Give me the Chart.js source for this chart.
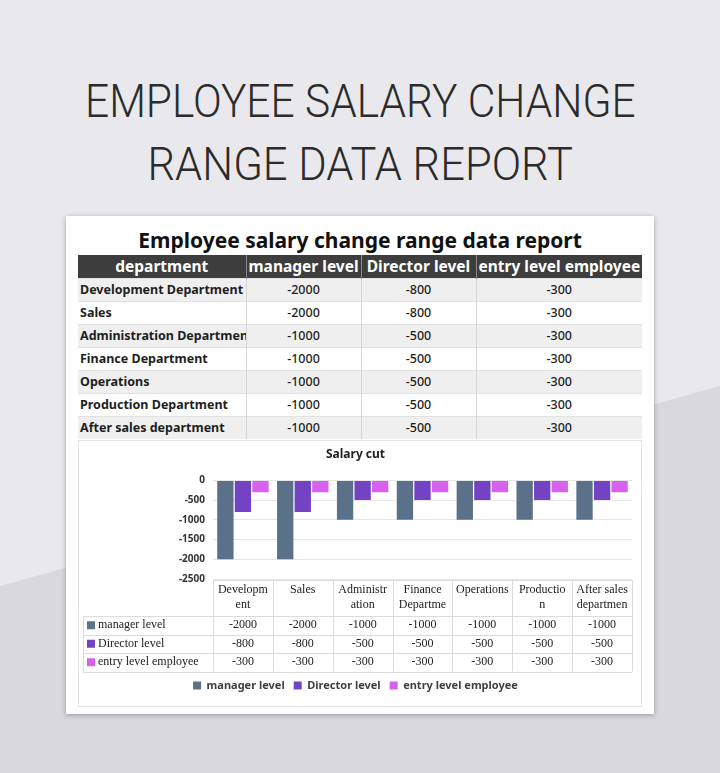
<!DOCTYPE html>
<html>
<head>
<meta charset="utf-8">
<script src="https://cdn.jsdelivr.net/npm/chart.js@4.4.1/dist/chart.umd.min.js"></script>
<style>
  html, body { margin: 0; padding: 0; }
  body {
    width: 720px; height: 773px; position: relative; overflow: hidden;
    background: #e9e9ed; font-family: "Noto Sans", sans-serif;
  }
  .shade {
    position: absolute; left: 0; top: 0; width: 720px; height: 773px;
    background: #d9d9dd;
    clip-path: polygon(0 586px, 720px 386px, 720px 773px, 0 773px);
  }
  .big {
    position: absolute; left: 0; width: 720px; text-align: center;
    font-family: "Roboto", sans-serif; font-weight: 300; color: #2b2b2b;
    font-size: 46px; line-height: 1; white-space: nowrap;
  }
  .big span { display: inline-block; transform-origin: center; }
  .card {
    position: absolute; left: 66px; top: 216px; width: 588px; height: 498px;
    background: #fff; box-shadow: 0 1px 5px rgba(0,0,0,0.3);
  }
  .ctitle {
    position: absolute; left: 0; top: 10px; width: 588px; text-align: center;
    font-weight: 700; font-size: 21px; color: #111; line-height: 28px;
  }
  table {
    position: absolute; left: 12px; top: 39px; border-collapse: collapse;
    table-layout: fixed; width: 564px;
  }
  th, td { padding: 0 2px; white-space: nowrap; overflow: hidden; }
  th {
    background: #3d3d3d; color: #fff; font-size: 15.5px; font-weight: 700;
    height: 23px; line-height: 23px; border-left: 1px solid #8a8a8a;
  }
  th:first-child { border-left: none; }
  td {
    height: 22px; line-height: 22px; font-size: 12.5px; color: #1e1e1e;
    border-left: 1px solid #d6d6d6; border-top: 1px solid #e2e2e2;
    text-align: center; font-weight: 500;
  }
  td:first-child { text-align: left; font-weight: 700; border-left: none; }
  tr:nth-child(odd) td { background: #efefef; }
  .chartbox {
    position: absolute; left: 12px; top: 224px; width: 562px; height: 265px;
    border: 1px solid #e4e4e4;
  }
</style>
</head>
<body>
<div class="shade"></div>
<div class="big" style="top:78px"><span id="t1">EMPLOYEE SALARY CHANGE</span></div>
<div class="big" style="top:141px"><span id="t2">RANGE DATA REPORT</span></div>

<div class="card">
  <div class="ctitle">Employee salary change range data report</div>
  <table id="tbl">
    <colgroup>
      <col style="width:168px"><col style="width:115px"><col style="width:115px"><col style="width:166px">
    </colgroup>
    <thead><tr id="head"></tr></thead>
    <tbody id="body"></tbody>
  </table>
  <div class="chartbox"><canvas id="chart" width="562" height="265"></canvas></div>
</div>

<script>
// data
const departments = ['Development Department', 'Sales', 'Administration Department', 'Finance Department',
  'Operations', 'Production Department', 'After sales department'];
const axisLabels = [['Developm', 'ent'], ['Sales'], ['Administr', 'ation'], ['Finance', 'Departme'],
  ['Operations'], ['Productio', 'n'], ['After sales', 'departmen']];
const seriesNames = ['manager level', 'Director level', 'entry level employee'];
const manager = [-2000, -2000, -1000, -1000, -1000, -1000, -1000];
const director = [-800, -800, -500, -500, -500, -500, -500];
const entry = [-300, -300, -300, -300, -300, -300, -300];
const yTicks = [0, -500, -1000, -1500, -2000, -2500];

const colors = ['#5b7189', '#7443c4', '#d760ef'];
const values = [manager, director, entry];

// title lines stretched to the poster widths
function fit(id, w) {
  const el = document.getElementById(id);
  el.style.transform = 'scaleX(' + (w / el.offsetWidth) + ')';
}
fit('t1', 551);
fit('t2', 425);

// top table
document.getElementById('head').innerHTML =
  '<th>department</th>' + seriesNames.map(s => '<th>' + s + '</th>').join('');
document.getElementById('body').innerHTML = departments.map((d, i) =>
  '<tr><td>' + d + '</td>' + values.map(v => '<td>' + v[i] + '</td>').join('') + '</tr>').join('');

// Excel-like data table under the plot, laid out on the x scale
const dataTable = {
  id: 'dataTable',
  afterDraw(chart) {
    const ctx = chart.ctx, xs = chart.scales.x, a = chart.chartArea;
    const w = (a.right - a.left) / axisLabels.length;
    const top = a.bottom + 1, head = top + 36, rowH = 18.5, left = 4;
    const bottom = head + rowH * 3;
    ctx.save();
    ctx.strokeStyle = '#dcdcdc';
    ctx.lineWidth = 1;
    ctx.beginPath();
    ctx.moveTo(a.left, top + 0.5); ctx.lineTo(a.right, top + 0.5);
    for (let r = 0; r <= 3; r++) {
      const y = Math.round(head + r * rowH) + 0.5;
      ctx.moveTo(left, y); ctx.lineTo(a.right, y);
    }
    for (let i = 0; i <= axisLabels.length; i++) {
      const x = Math.round(xs.getPixelForValue(i) - w / 2) + 0.5;
      ctx.moveTo(x, top); ctx.lineTo(x, bottom);
    }
    ctx.moveTo(left + 0.5, head); ctx.lineTo(left + 0.5, bottom);
    ctx.stroke();

    ctx.fillStyle = '#222';
    ctx.font = '12px "Liberation Serif", serif';
    ctx.textAlign = 'center';
    ctx.textBaseline = 'middle';
    axisLabels.forEach((lines, i) => {
      const cx = xs.getPixelForValue(i);
      lines.forEach((t, k) => ctx.fillText(t, cx, top + 10 + k * 15));
    });
    values.forEach((vals, r) => {
      const cy = head + rowH * r + rowH / 2;
      vals.forEach((v, i) => ctx.fillText(String(v), xs.getPixelForValue(i), cy));
      ctx.fillStyle = colors[r];
      ctx.fillRect(left + 4, cy - 4, 8, 8);
      ctx.fillStyle = '#222';
      ctx.textAlign = 'left';
      ctx.fillText(seriesNames[r], left + 15, cy);
      ctx.textAlign = 'center';
    });
    ctx.restore();
  }
};

new Chart(document.getElementById('chart'), {
  type: 'bar',
  data: {
    labels: axisLabels,
    datasets: seriesNames.map((name, i) => ({
      label: name,
      data: values[i],
      backgroundColor: colors[i],
      categoryPercentage: 0.88,
      barPercentage: 0.93
    }))
  },
  options: {
    responsive: false,
    animation: false,
    layout: { padding: { top: 1, right: 9, bottom: 5, left: 0 } },
    plugins: {
      title: {
        display: true, text: 'Salary cut', color: '#222',
        font: { family: '"Noto Sans", sans-serif', size: 12, weight: 'bold' },
        padding: { top: 5, bottom: 19 }
      },
      legend: {
        position: 'bottom',
        labels: {
          boxWidth: 8, boxHeight: 8, padding: 9, color: '#404040',
          font: { family: '"Noto Sans", sans-serif', size: 11, weight: 'bold' }
        }
      },
      tooltip: { enabled: false }
    },
    scales: {
      x: {
        grid: { display: false },
        border: { display: false },
        ticks: { display: false },
        afterFit(scale) { scale.height = 92; }
      },
      y: {
        min: yTicks[yTicks.length - 1], max: yTicks[0],
        afterBuildTicks(scale) { scale.ticks = yTicks.map(v => ({ value: v })); },
        afterFit(scale) { scale.width = 134; },
        border: { display: false },
        grid: { color: '#e6e6e6', drawTicks: false },
        ticks: {
          padding: 8, color: '#333',
          callback: v => String(v),
          font: { family: '"Noto Sans", sans-serif', size: 10, weight: 'bold' }
        }
      }
    }
  },
  plugins: [dataTable]
});
</script>
</body>
</html>
